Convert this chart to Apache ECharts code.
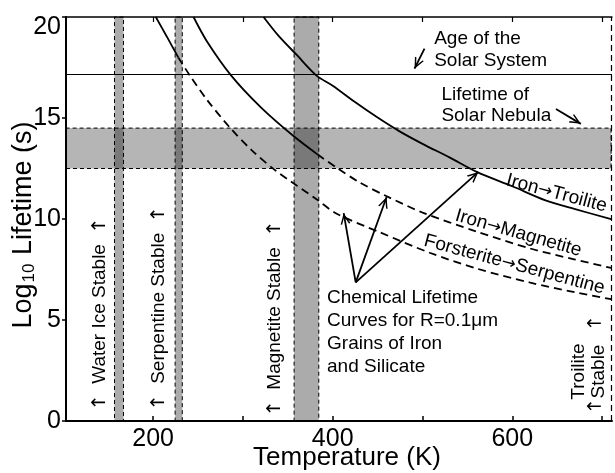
<!DOCTYPE html>
<html><head><meta charset="utf-8">
<script src="https://cdn.jsdelivr.net/npm/echarts@6/dist/echarts.min.js"></script>
<style>html,body{margin:0;padding:0;background:#fff}#c{width:615px;height:473px}</style>
</head><body><div id="c"></div>
<script>
const FONT = '"Liberation Sans", Arial, Helvetica, sans-serif';
const ARROWFONT = '"DejaVu Sans", sans-serif';

// ---- data (temperature K, log10 lifetime s) ----
const troiliteT   = [323, 340, 360, 382, 400, 426, 450, 474, 500, 530, 561, 600, 637, 670, 710];
const troiliteLog = [20.0, 19.05, 18.12, 17.10, 16.6, 15.75, 15.02, 14.35, 13.72, 13.05, 12.32, 11.62, 10.92, 10.49, 9.99];

const magnetiteSolidT   = [245, 260, 287, 320, 356, 383];
const magnetiteSolidLog = [20.0, 18.79, 17.10, 15.53, 14.12, 13.2];
const magnetiteDashT    = [383, 404, 430, 459, 500, 560, 620, 670, 710];
const magnetiteDashLog  = [13.2, 12.55, 11.81, 11.15, 10.32, 9.38, 8.54, 7.99, 7.58];

const forsteriteSolidT   = [203, 215, 228];
const forsteriteSolidLog = [20.0, 19.05, 18.0];
const forsteriteDashT    = [228, 241, 260, 286, 310, 337, 382, 404, 452, 508, 560, 620, 670, 710];
const forsteriteDashLog  = [18.0, 17.10, 15.9, 14.5, 13.4, 12.38, 10.98, 10.27, 9.35, 8.33, 7.55, 6.85, 6.37, 6.03];

const stableBands = [[157, 167], [224.5, 232.5], [357, 384.5]];   // K
const nebulaBand = [12.5, 14.5];                                  // log s
const solarSystemAge = 17.15;
const troiliteLimit = 710;

const xTicks = [200, 300, 400, 500, 600, 700];
const xLabels = [200, 400, 600];
const xRange = [103, 711];
const yRange = [0, 20];

// annotation texts and anchors (data coords)
const noteTexts = [
  'Age of the\nSolar System',
  'Lifetime of\nSolar Nebula',
  'Chemical Lifetime\nCurves for R=0.1μm\nGrains of Iron\nand Silicate',
  'Iron{ar|→}Troilite',
  'Iron{ar|→}Magnetite',
  'Forsterite{ar|→}Serpentine',
  '{av|↑}  Water Ice Stable  {av|↑}',
  '{av|↑}  Serpentine Stable  {av|↑}',
  '{av|↑}  Magnetite Stable  {av|↑}',
  'Troilite\nStable',
  '{av|←}',
  '{av|←}'
];
const noteAnchors = [
  [513, 18.38], [521, 15.63], [393.7, 4.39],
  [649.3, 11.27], [606.7, 9.30], [602.2, 7.74],
  [141.1, 5.30], [206.7, 5.58], [335.6, 5.08],
  [685.6, 2.45], [691, 4.79], [691, 0.70]
];
const noteRotate = [0, 0, 0, -15, -16, -15, 90, 90, 90, 90, 0, 0];
const noteAlign  = ['left', 'left', 'left', 'center', 'center', 'center', 'center', 'center', 'center', 'center', 'center', 'center'];
const noteLineH  = [22, 21, 23, 22, 22, 22, 22, 22, 22, 20, 22, 22];

const arrowFrom = [[502.2, 18.43], [648.6, 15.45], [425.6, 6.86], [425.6, 6.86], [425.6, 6.86]];
const arrowTo   = [[491.1, 17.44], [676.3, 14.71], [412.2, 10.29], [460, 11.09], [562.2, 12.33]];

// ---- build ----
const zip = (a, b) => a.map((v, i) => [v, b[i]]);
const chevron = 'path://M5,0 M0,20 L5,10 L10,20 L8.4,20 L5,13.2 L1.6,20 Z';

function curve(name, T, L, dashed) {
  return {
    name, type: 'line', data: zip(T, L), symbol: 'none', showSymbol: false,
    smooth: 0.3, silent: true, z: 5, animation: false,
    lineStyle: { color: '#000', width: 1.8, type: dashed ? [8, 5] : 'solid' }
  };
}

const chart = echarts.init(document.getElementById('c'));
const txt = { color: '#000', fontFamily: FONT };

chart.setOption({
  animation: false,
  backgroundColor: '#fff',
  grid: { left: 66, right: 3, top: 17, bottom: 52, containLabel: false, outerBoundsMode: 'none' },
  xAxis: [
    {
      type: 'value', min: xRange[0], max: xRange[1], position: 'bottom',
      axisLine: { onZero: false, lineStyle: { color: '#000', width: 2 } },
      splitLine: { show: false },
      axisTick: { inside: true, length: 5, customValues: xTicks, lineStyle: { color: '#000', width: 1.5 } },
      axisLabel: Object.assign({ customValues: xLabels, fontSize: 25, margin: 6 }, txt),
      name: 'Temperature (K)', nameLocation: 'middle', nameGap: 24, nameMoveOverlap: false,
      nameTextStyle: Object.assign({ fontSize: 26, padding: [0, 0, 0, 16] }, txt)
    },
    {
      type: 'value', min: xRange[0], max: xRange[1], position: 'top',
      axisLine: { onZero: false, lineStyle: { color: '#000', width: 1.5 } },
      splitLine: { show: false },
      axisTick: { inside: true, length: 5, customValues: xTicks, lineStyle: { color: '#000', width: 1.2 } },
      axisLabel: { show: false }
    }
  ],
  yAxis: {
    type: 'value', min: yRange[0], max: yRange[1], interval: 5,
    axisLine: { onZero: false, lineStyle: { color: '#000', width: 2 } },
    splitLine: { show: false },
    axisTick: { inside: false, length: 4, lineStyle: { color: '#000', width: 1.5 } },
    axisLabel: Object.assign({
      fontSize: 25, margin: 5,
      formatter: v => (v === 20 ? '{top|20}' : String(v)),
      rich: { top: { fontSize: 25, color: '#000', fontFamily: FONT, padding: [20, 0, 0, 0] } }
    }, txt),
    name: '{a|Log}{s|10}{a| Lifetime (s)}', nameLocation: 'middle', nameGap: 27, nameMoveOverlap: false,
    nameTextStyle: {
      color: '#000', fontFamily: FONT, lineHeight: 30, padding: [0, 12, 0, 0],
      rich: {
        a: { fontSize: 27, color: '#000', fontFamily: FONT, verticalAlign: 'middle' },
        s: { fontSize: 17, color: '#000', fontFamily: FONT, verticalAlign: 'bottom', padding: [0, 1, 1, 1] }
      }
    }
  },
  series: [
    {
      name: 'nebula', type: 'line', data: [], silent: true, z: 1,
      markArea: {
        silent: true,
        itemStyle: { color: 'rgba(0,0,0,0.29)', borderColor: '#000', borderWidth: 1, borderType: [4, 3] },
        data: [[{ xAxis: xRange[0], yAxis: nebulaBand[0] }, { xAxis: troiliteLimit, yAxis: nebulaBand[1] }]]
      }
    },
    {
      name: 'stable', type: 'line', data: [], silent: true, z: 2,
      markArea: {
        silent: true,
        itemStyle: { color: 'rgba(0,0,0,0.33)', borderColor: '#000', borderWidth: 1, borderType: [4, 3] },
        data: stableBands.map(b => [{ xAxis: b[0] }, { xAxis: b[1] }])
      }
    },
    {
      name: 'limits', type: 'line', data: [], silent: true, z: 3,
      markLine: {
        silent: true, symbol: ['none', 'none'], label: { show: false },
        data: [
          { yAxis: solarSystemAge, lineStyle: { color: '#000', width: 1, type: 'solid' } },
          { xAxis: troiliteLimit, lineStyle: { color: '#000', width: 1.2, type: [6, 4] } }
        ]
      }
    },
    curve('Iron→Troilite', troiliteT, troiliteLog, false),
    curve('Iron→Magnetite', magnetiteSolidT, magnetiteSolidLog, false),
    curve('Iron→Magnetite (dashed)', magnetiteDashT, magnetiteDashLog, true),
    curve('Forsterite→Serpentine', forsteriteSolidT, forsteriteSolidLog, false),
    curve('Forsterite→Serpentine (dashed)', forsteriteDashT, forsteriteDashLog, true),
    {
      name: 'notes', type: 'scatter', silent: true, z: 10,
      symbolSize: 1, itemStyle: { color: 'transparent', opacity: 1 },
      data: noteAnchors.map((p, i) => ({
        value: p,
        label: {
          show: true, formatter: noteTexts[i], position: 'inside',
          rotate: noteRotate[i], align: noteAlign[i], verticalAlign: 'middle',
          fontSize: 19, lineHeight: noteLineH[i], color: '#000', fontFamily: FONT,
          textBorderWidth: 0, textBorderColor: 'transparent', opacity: 1,
          rich: {
            ar: { fontFamily: ARROWFONT, fontSize: 17, color: '#000', padding: [1, 0, 0, 0] },
            av: { fontFamily: ARROWFONT, fontSize: 19, color: '#000' }
          }
        }
      })),
      markLine: {
        silent: true, symbol: ['none', chevron], symbolSize: [10, 22], label: { show: false },
        lineStyle: { color: '#000', width: 1.8, type: 'solid' },
        itemStyle: { color: '#000', opacity: 1 },
        data: arrowFrom.map((p, i) => [{ coord: p }, { coord: arrowTo[i] }])
      }
    }
  ]
});
</script></body></html>
